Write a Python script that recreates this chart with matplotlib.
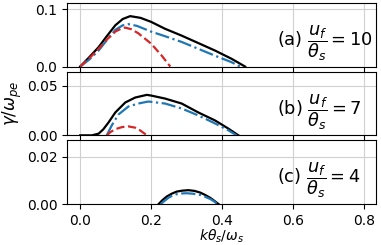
import matplotlib
matplotlib.use("Agg")
import matplotlib.pyplot as plt

# Panel (a) u_f/theta_s = 10
k_a_black = [0.0, 0.025, 0.052, 0.075, 0.099, 0.12, 0.141, 0.17, 0.2, 0.239, 0.286, 0.333, 0.38, 0.427, 0.465]
g_a_black = [0.0, 0.016, 0.034, 0.053, 0.072, 0.083, 0.088, 0.085, 0.078, 0.066, 0.054, 0.041, 0.028, 0.0135, 0.0]
k_a_blue = [0.0, 0.025, 0.052, 0.075, 0.099, 0.12, 0.136, 0.16, 0.2, 0.239, 0.286, 0.333, 0.38, 0.427, 0.451]
g_a_blue = [0.0, 0.012, 0.028, 0.046, 0.064, 0.072, 0.074, 0.071, 0.061, 0.053, 0.043, 0.031, 0.019, 0.0076, 0.0]
k_a_red = [0.0, 0.025, 0.052, 0.075, 0.099, 0.115, 0.127, 0.145, 0.164, 0.2, 0.23, 0.254]
g_a_red = [0.0, 0.014, 0.031, 0.047, 0.061, 0.066, 0.068, 0.065, 0.058, 0.040, 0.019, 0.0]

# Panel (b) u_f/theta_s = 7
k_b_black = [0.0, 0.033, 0.052, 0.065, 0.08, 0.099, 0.127, 0.155, 0.188, 0.2, 0.239, 0.286, 0.333, 0.38, 0.418, 0.446]
g_b_black = [0.0, 0.0, 0.0017, 0.006, 0.013, 0.023, 0.033, 0.038, 0.0407, 0.040, 0.037, 0.032, 0.023, 0.015, 0.0067, 0.0]
k_b_blue = [0.075, 0.089, 0.108, 0.136, 0.164, 0.192, 0.239, 0.286, 0.333, 0.38, 0.418, 0.441]
g_b_blue = [0.0, 0.010, 0.021, 0.029, 0.032, 0.034, 0.032, 0.027, 0.020, 0.012, 0.005, 0.0]
k_b_red = [0.075, 0.085, 0.099, 0.118, 0.136, 0.155, 0.169, 0.188]
g_b_red = [0.0, 0.0032, 0.0062, 0.0083, 0.009, 0.0077, 0.005, 0.0]

# Panel (c) u_f/theta_s = 4
k_c_black = [0.221, 0.232, 0.244, 0.258, 0.272, 0.288, 0.305, 0.322, 0.338, 0.352, 0.366, 0.378, 0.39]
g_c_black = [0.0, 0.0017, 0.0032, 0.0044, 0.0053, 0.0057, 0.0059, 0.0056, 0.0049, 0.0039, 0.0027, 0.0014, 0.0]
k_c_blue = [0.227, 0.238, 0.249, 0.26, 0.272, 0.286, 0.30, 0.318, 0.338, 0.352, 0.366, 0.377, 0.387]
g_c_blue = [0.0, 0.0014, 0.0027, 0.0036, 0.0042, 0.0045, 0.0046, 0.0044, 0.0039, 0.0031, 0.0022, 0.0012, 0.0]

labels = [r"(a) $\dfrac{u_f}{\theta_s} = 10$", r"(b) $\dfrac{u_f}{\theta_s} = 7$", r"(c) $\dfrac{u_f}{\theta_s} = 4$"]
xticks = [0.0, 0.2, 0.4, 0.6, 0.8]
yticks = [[0.0, 0.1], [0.00, 0.05], [0.00, 0.02]]
ytick_labels = [["0.0", "0.1"], ["0.00", "0.05"], ["0.00", "0.02"]]
ylims = [0.111, 0.064, 0.027]

fig, axes = plt.subplots(3, 1, figsize=(3.81, 2.45), dpi=100, sharex=True)
fig.subplots_adjust(left=0.176, right=0.987, top=0.988, bottom=0.167, hspace=0.08)

data = [
    [(k_a_black, g_a_black), (k_a_blue, g_a_blue), (k_a_red, g_a_red)],
    [(k_b_black, g_b_black), (k_b_blue, g_b_blue), (k_b_red, g_b_red)],
    [(k_c_black, g_c_black), (k_c_blue, g_c_blue)],
]
styles = [dict(color="black", ls="-"), dict(color="#1f77b4", ls="-."), dict(color="#d62728", ls="--")]

for i, ax in enumerate(axes):
    for j, (kk, gg) in enumerate(data[i]):
        ax.plot(kk, gg, lw=1.6, **styles[j])
    ax.set_ylim(0, ylims[i])
    ax.set_xlim(-0.037, 0.834)
    ax.set_xticks(xticks)
    ax.set_yticks(yticks[i])
    ax.set_yticklabels(ytick_labels[i])
    ax.grid(True, color="#d0d0d0", lw=0.8)
    ax.tick_params(labelsize=10)
    ax.text(0.678, 0.37, labels[i], transform=ax.transAxes, fontsize=12.8, ha="left", va="center")

axes[1].set_ylabel(r"$\gamma/\omega_{pe}$", fontsize=12, labelpad=2)
axes[2].set_xlabel(r"$k\theta_s/\omega_s$", fontsize=10, labelpad=0)
fig.savefig("out.png", dpi=100)
